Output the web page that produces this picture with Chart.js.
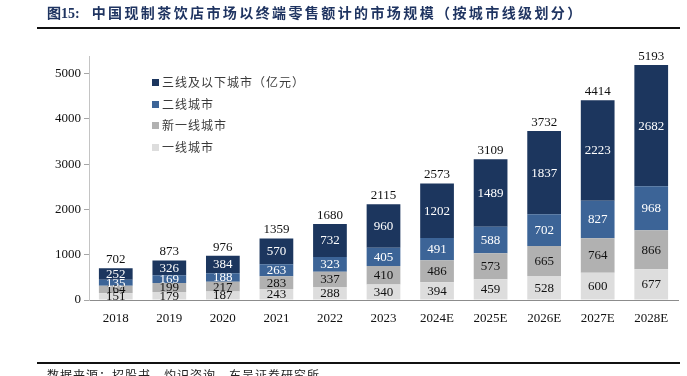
<!DOCTYPE html>
<html lang="zh-CN">
<head>
    <meta charset="UTF-8">
    <title>中国现制茶饮店市场规模</title>
    <script src="https://cdn.jsdelivr.net/npm/chart.js"></script>
    <style>
        html, body {
            margin: 0;
            padding: 0;
            width: 687px;
            height: 376px;
            overflow: hidden;
            background: #ffffff;
        }
        .title {
            position: absolute;
            left: 47px;
            top: 2px;
            font-size: 14px;
            font-weight: bold;
            color: #1f3461;
            white-space: nowrap;
            font-family: "Noto Sans CJK SC", sans-serif;
            letter-spacing: 2.4px;
        }
        .title .num {
            font-family: "Liberation Serif", serif;
            letter-spacing: 0;
            margin-right: 12px;
        }
        .rule {
            position: absolute;
            left: 37px;
            width: 643px;
            background: #111;
        }
        .source {
            position: absolute;
            left: 47px;
            top: 366px;
            font-size: 12px;
            color: #222;
            white-space: nowrap;
            font-family: "Noto Sans CJK SC", sans-serif;
            letter-spacing: 1px;
        }
        .chart-box {
            position: absolute;
            left: 0;
            top: 0;
            width: 687px;
            height: 376px;
        }
        .legend {
            position: absolute;
            left: 152px;
            top: 74px;
            font-family: "Noto Sans CJK SC", sans-serif;
            font-size: 12px;
            color: #3a3a3a;
            letter-spacing: 1px;
        }
        .legend div {
            height: 21.5px;
            line-height: 16px;
            white-space: nowrap;
        }
        .legend span {
            display: inline-block;
            width: 7px;
            height: 7px;
            margin-right: 3px;
            vertical-align: 1px;
        }
    </style>
</head>
<body>
    <div class="chart-box"><canvas id="marketChart"></canvas></div>
    <div class="title"><span class="num">图15:</span>中国现制茶饮店市场以终端零售额计的市场规模（按城市线级划分）</div>
    <div class="rule" style="top:27px;height:2px;"></div>
    <div class="rule" style="top:362px;height:1.5px;"></div>
    <div class="source">数据来源：招股书，灼识咨询，东吴证券研究所</div>
    <div class="legend" id="legend"></div>

    <script>
        // 年份
        const years = ['2018', '2019', '2020', '2021', '2022', '2023', '2024E', '2025E', '2026E', '2027E', '2028E'];

        // 各线级城市市场规模（亿元）
        const tier1 = [151, 179, 187, 243, 288, 340, 394, 459, 528, 600, 677];
        const newTier1 = [164, 199, 217, 283, 337, 410, 486, 573, 665, 764, 866];
        const tier2 = [135, 169, 188, 263, 323, 405, 491, 588, 702, 827, 968];
        const tier3 = [252, 326, 384, 570, 732, 960, 1202, 1489, 1837, 2223, 2682];
        const totals = [702, 873, 976, 1359, 1680, 2115, 2573, 3109, 3732, 4414, 5193];

        const yTicks = [0, 1000, 2000, 3000, 4000, 5000];

        const seriesNames = ['一线城市', '新一线城市', '二线城市', '三线及以下城市（亿元）'];
        const seriesColors = ['#dddddd', '#b1b1b1', '#3c6497', '#1c365e'];
        const labelColors = ['#111111', '#111111', '#ffffff', '#ffffff'];
        const seriesData = [tier1, newTier1, tier2, tier3];

        const numFont = '13px "Liberation Serif", "Times New Roman", serif';

        // 柱内数值 + 柱顶合计
        const valueLabels = {
            id: 'valueLabels',
            afterDatasetsDraw(chart) {
                const ctx = chart.ctx;
                ctx.save();
                ctx.font = numFont;
                ctx.textAlign = 'center';
                chart.data.datasets.forEach((ds, i) => {
                    const meta = chart.getDatasetMeta(i);
                    ctx.fillStyle = labelColors[i];
                    ctx.textBaseline = 'middle';
                    meta.data.forEach((bar, j) => {
                        ctx.fillText(ds.data[j], bar.x, (bar.y + bar.base) / 2 + 0.5);
                    });
                });
                const topMeta = chart.getDatasetMeta(chart.data.datasets.length - 1);
                ctx.fillStyle = '#111111';
                ctx.textBaseline = 'bottom';
                topMeta.data.forEach((bar, j) => {
                    ctx.fillText(totals[j], bar.x, bar.y - 2);
                });
                ctx.restore();
            }
        };

        const ctx = document.getElementById('marketChart').getContext('2d');
        const marketChart = new Chart(ctx, {
            type: 'bar',
            data: {
                labels: years,
                datasets: seriesData.map((d, i) => ({
                    label: seriesNames[i],
                    data: d,
                    backgroundColor: seriesColors[i],
                    borderWidth: 0,
                    categoryPercentage: 1,
                    barPercentage: 0.63
                }))
            },
            options: {
                responsive: true,
                maintainAspectRatio: false,
                animation: false,
                layout: {
                    padding: { top: 56, left: 0, right: 9, bottom: 46 }
                },
                plugins: {
                    legend: { display: false },
                    tooltip: { enabled: false }
                },
                scales: {
                    x: {
                        stacked: true,
                        grid: { display: false },
                        border: { display: true, color: '#8c8c8c', width: 1 },
                        ticks: {
                            color: '#111',
                            font: { family: '"Liberation Serif", serif', size: 13 },
                            padding: 3,
                            maxRotation: 0
                        },
                        afterFit(scale) { scale.height = 30; }
                    },
                    y: {
                        stacked: true,
                        min: 0,
                        max: 5390,
                        grid: {
                            drawOnChartArea: false,
                            drawTicks: true,
                            tickLength: 5,
                            color: '#a6a6a6'
                        },
                        border: { display: true, color: '#c4c4c4', width: 1 },
                        ticks: {
                            color: '#111',
                            font: { family: '"Liberation Serif", serif', size: 13 },
                            padding: 3,
                            callback: v => String(v)
                        },
                        afterBuildTicks(scale) {
                            scale.ticks = yTicks.map(v => ({ value: v }));
                        },
                        afterFit(scale) { scale.width = 89; }
                    }
                }
            },
            plugins: [valueLabels]
        });

        // 图例（从上到下：三线 → 一线）
        const legendEl = document.getElementById('legend');
        for (let i = seriesNames.length - 1; i >= 0; i--) {
            const row = document.createElement('div');
            row.innerHTML = '<span style="background:' + seriesColors[i] + '"></span>' + seriesNames[i];
            legendEl.appendChild(row);
        }
    </script>
</body>
</html>
